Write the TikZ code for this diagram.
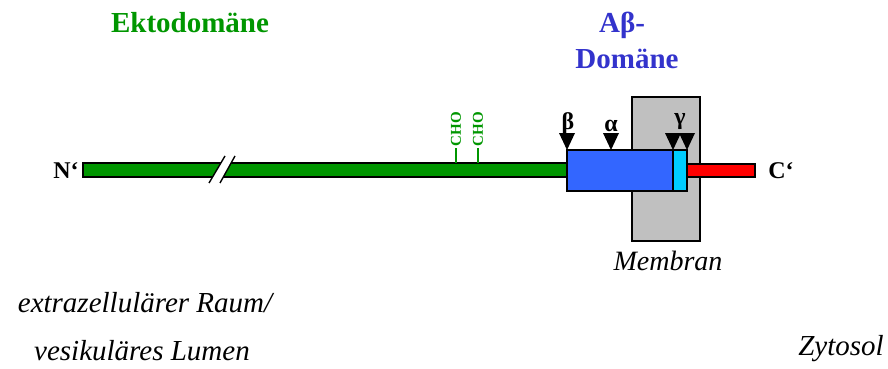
\documentclass[tikz,border=0pt]{standalone}
\usepackage{fontspec}
\setmainfont{Liberation Serif}
\definecolor{ektogreen}{RGB}{0,150,0}
\definecolor{abblue}{RGB}{51,102,255}
\definecolor{abtext}{RGB}{51,51,204}
\definecolor{tmcyan}{RGB}{0,204,255}
\definecolor{membgray}{RGB}{192,192,192}

\begin{document}
\begin{tikzpicture}[x=1pt, y=-1pt, line width=1.4pt,
    seg/.style={draw, rectangle, inner sep=0, outer sep=0, anchor=north west},
    big/.style={font=\fontsize{29}{33}\selectfont, inner sep=0, anchor=base},
    lbl/.style={font=\fontsize{24}{28}\selectfont\bfseries, inner sep=0, anchor=base},
    site/.style={font=\fontsize{24}{26}\selectfont\bfseries, inner sep=0, anchor=base},
    sugar/.style={font=\fontsize{15}{17}\selectfont\bfseries, text=ektogreen, rotate=90, anchor=west, inner sep=1}]
\useasboundingbox (0,0) rectangle (888,369);

\node[seg, fill=membgray, minimum width=68, minimum height=144] (memb) at (632,97) {};
\node[seg, fill=ektogreen, minimum width=484, minimum height=14] (ekto) at (83,163) {};
\node[seg, fill=red, minimum width=68, minimum height=13] (cterm) at (687,164) {};
\node[seg, fill=abblue, minimum width=106, minimum height=41] (abeta) at (567,150) {};
\node[seg, fill=tmcyan, minimum width=14, minimum height=41] (tmd) at (abeta.north east) {};

% break in the ectodomain
\fill[white] (209,183) -- (225,156) -- (235,156) -- (220,183) -- cycle;
\draw (209,183) -- (225,156);
\draw (220,183) -- (235,156);

% glycosylation
\node[sugar] (cho1) at (456,148) {CHO};
\node[sugar] (cho2) at (478,148) {CHO};
\draw[ektogreen, line width=1.8pt] (cho1.west) -- (cho1.west |- ekto.north);
\draw[ektogreen, line width=1.8pt] (cho2.west) -- (cho2.west |- ekto.north);

% secretase cuts
\foreach \x in {567,611,673,687}
  \fill (\x-8,133) -- (\x+8,133) -- (\x,150) -- cycle;
\node[site] (beta) at (568,129) {β};
\node[site] (alpha) at (611,131) {α};
\node[site] (gamma) at (680,124) {γ};

\node[lbl] (nterm) at (66,178) {N‘};
\node[lbl] (cend) at (781,178) {C‘};

\node[big, font=\fontsize{29}{33}\selectfont\bfseries, text=ektogreen] (ektolbl) at (190,33) {Ektodomäne};
\node[big, font=\fontsize{29}{33}\selectfont\bfseries, text=abtext] (ablbl) at (622,33) {Aβ-};
\node[big, font=\fontsize{29}{33}\selectfont\bfseries, text=abtext] (domlbl) at (627,68) {Domäne};

\node[big, font=\fontsize{28}{32}\selectfont\itshape] (memblbl) at (668,270) {Membran};
\node[big, font=\fontsize{29}{33}\selectfont\itshape] (extra) at (145,312) {extrazellulärer Raum/};
\node[big, font=\fontsize{29}{33}\selectfont\itshape] (lumen) at (142,360) {vesikuläres Lumen};
\node[big, font=\fontsize{29}{33}\selectfont\itshape] (zyto) at (841,355) {Zytosol};
\end{tikzpicture}
\end{document}
